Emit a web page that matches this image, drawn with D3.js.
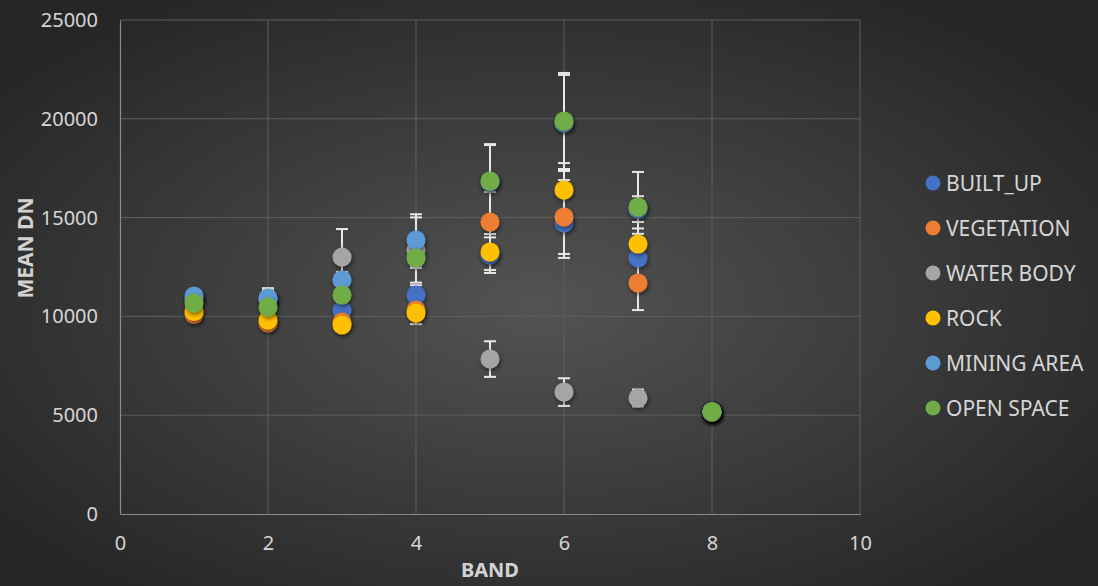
<!DOCTYPE html>
<html>
<head>
<meta charset="utf-8">
<script src="https://cdn.jsdelivr.net/npm/d3@7"></script>
<style>
  html, body { margin: 0; padding: 0; background: #2b2b2b; }
  svg { display: block; }
</style>
</head>
<body>
<svg id="chart" width="1098" height="586"></svg>
<script>
// Mean DN per band for each land-cover class, with ± error (standard deviation)
const bands = [1, 2, 3, 4, 5, 6, 7, 8];
const seriesNames = ["BUILT_UP", "VEGETATION", "WATER BODY", "ROCK", "MINING AREA", "OPEN SPACE"];
const seriesColors = ["#4472C4", "#ED7D31", "#A5A5A5", "#FFC000", "#5B9BD5", "#70AD47"];

const builtUp    = [10900, 10800, 10300, 11080, 13100, 14730, 12950, 5160];
const vegetation = [10100,  9670,  9720, 10320, 14780, 15030, 11690, 5160];
const waterBody  = [10850, 10880, 13000, 13360,  7840,  6170,  5870, 5160];
const rock       = [10250,  9820,  9560, 10170, 13260, 16400, 13660, 5160];
const miningArea = [11030, 10930, 11840, 13870, 16800, 19790, 15430, 5160];
const openSpace  = [10680, 10475, 11080, 12950, 16850, 19890, 15540, 5170];

const builtUpErr    = [200, 250, 300,  500,  900, 1770, 1500, 100];
const vegetationErr = [200, 250, 250,  400, 1520, 1870, 1370, 100];
const waterBodyErr  = [250, 450, 1420, 1650, 900,  700,  430, 100];
const rockErr       = [200, 250, 250,  560,  910, 1360,  520, 100];
const miningAreaErr = [300, 500, 400, 1300, 1870, 2430,  650, 100];
const openSpaceErr  = [250, 300, 350,  500, 1870, 2430, 1770, 100];

const xTicks = [0, 2, 4, 6, 8, 10];
const yTicks = [0, 5000, 10000, 15000, 20000, 25000];

const seriesValues = [builtUp, vegetation, waterBody, rock, miningArea, openSpace];
const seriesErrors = [builtUpErr, vegetationErr, waterBodyErr, rockErr, miningAreaErr, openSpaceErr];

const series = seriesNames.map((name, i) => ({
  name,
  color: seriesColors[i],
  points: bands.map((b, j) => ({ band: b, value: seriesValues[i][j], err: seriesErrors[i][j] }))
}));

const W = 1098, H = 586;
const margin = { left: 120, right: 238, top: 20, bottom: 72 };
const svg = d3.select("#chart");

// Background: dark radial gradient, lighter toward the middle
const defs = svg.append("defs");
const grad = defs.append("radialGradient")
  .attr("id", "bg").attr("cx", "49%").attr("cy", "52%").attr("r", "62%");
grad.append("stop").attr("offset", "0%").attr("stop-color", "#535353");
grad.append("stop").attr("offset", "100%").attr("stop-color", "#262626");
svg.append("rect").attr("width", W).attr("height", H).attr("fill", "url(#bg)");

const shadow = defs.append("filter").attr("id", "shadow")
  .attr("x", "-60%").attr("y", "-60%").attr("width", "220%").attr("height", "220%");
shadow.append("feDropShadow")
  .attr("dx", 1).attr("dy", 2).attr("stdDeviation", 2)
  .attr("flood-color", "#000").attr("flood-opacity", 0.55);

const x = d3.scaleLinear().domain([0, 10]).range([margin.left, W - margin.right]);
const y = d3.scaleLinear().domain([0, 25000]).range([H - margin.bottom, margin.top]);

// Gridlines
const grid = svg.append("g");
grid.selectAll("line.h").data(yTicks.filter(d => d > 0)).join("line")
  .attr("x1", x(0)).attr("x2", x(10))
  .attr("y1", d => y(d)).attr("y2", d => y(d))
  .attr("stroke", "#5e5e5e").attr("stroke-width", 1);
grid.selectAll("line.v").data(xTicks.filter(d => d > 0)).join("line")
  .attr("x1", d => x(d)).attr("x2", d => x(d))
  .attr("y1", y(0)).attr("y2", y(25000))
  .attr("stroke", "#5e5e5e").attr("stroke-width", 1);

// Axes
const font = "'Noto Sans', 'Open Sans', sans-serif";
const xAxis = svg.append("g").attr("transform", `translate(0,${y(0)})`)
  .call(d3.axisBottom(x).tickValues(xTicks).tickSize(0).tickPadding(22));
const yAxis = svg.append("g").attr("transform", `translate(${x(0)},0)`)
  .call(d3.axisLeft(y).tickValues(yTicks).tickSize(0).tickPadding(22).tickFormat(d3.format("d")));
[xAxis, yAxis].forEach(a => {
  a.select(".domain").attr("stroke", "#8a8a8a").attr("stroke-width", 1.2);
  a.selectAll("text").attr("fill", "#d6d6d6").style("font-family", font).style("font-size", "20px");
});

// Axis titles
svg.append("text").attr("x", x(5)).attr("y", 577)
  .attr("text-anchor", "middle").attr("fill", "#d2d2d2")
  .style("font-family", font).style("font-size", "20px").style("font-weight", "bold")
  .text("BAND");
svg.append("text").attr("transform", `translate(33,248) rotate(-90)`)
  .attr("text-anchor", "middle").attr("fill", "#d2d2d2")
  .style("font-family", font).style("font-size", "21px").style("font-weight", "bold")
  .text("MEAN DN");

// Error bars
const errG = svg.append("g");
series.forEach(s => {
  const g = errG.append("g");
  g.selectAll("line.stem").data(s.points).join("line")
    .attr("x1", d => x(d.band)).attr("x2", d => x(d.band))
    .attr("y1", d => y(d.value + d.err)).attr("y2", d => y(d.value - d.err))
    .attr("stroke", "#e8e8e8").attr("stroke-width", 2);
  [1, -1].forEach(sign => {
    g.selectAll(null).data(s.points).join("line")
      .attr("x1", d => x(d.band) - 6).attr("x2", d => x(d.band) + 6)
      .attr("y1", d => y(d.value + sign * d.err)).attr("y2", d => y(d.value + sign * d.err))
      .attr("stroke", "#e8e8e8").attr("stroke-width", 2);
  });
});

// Markers
series.forEach(s => {
  svg.append("g").attr("filter", "url(#shadow)")
    .selectAll("circle").data(s.points).join("circle")
    .attr("cx", d => x(d.band)).attr("cy", d => y(d.value))
    .attr("r", 9.5).attr("fill", s.color);
});

// Legend
const legend = svg.append("g").attr("transform", "translate(933,183)");
const item = legend.selectAll("g").data(series).join("g")
  .attr("transform", (d, i) => `translate(0,${i * 45})`);
item.append("circle").attr("r", 7.5).attr("fill", d => d.color);
item.append("text").attr("x", 13).attr("dy", "0.36em")
  .attr("fill", "#d6d6d6").style("font-family", font).style("font-size", "21px")
  .text(d => d.name);
</script>
</body>
</html>
